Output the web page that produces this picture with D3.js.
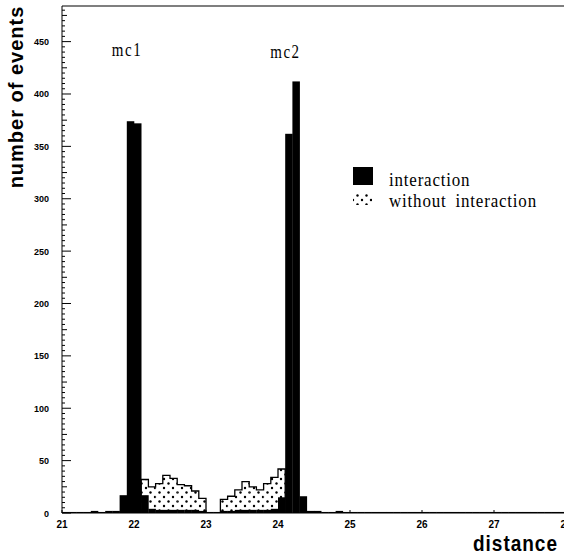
<!DOCTYPE html>
<html>
<head>
<meta charset="utf-8">
<script src="https://cdn.jsdelivr.net/npm/d3@7"></script>
<style>
  html, body { margin: 0; padding: 0; background: #fff; }
  svg { display: block; }
</style>
</head>
<body>
<svg id="chart" width="564" height="556"></svg>
<script>
// ---- data ----
const binWidth = 0.1;
const interactionX = [
  21.0,21.1,21.2,21.3,21.4,21.5,21.6,21.7,
  21.8,21.9,22.0,22.1,
  22.2,22.3,22.4,22.5,22.6,22.7,22.8,22.9,
  23.0,23.1,
  23.2,23.3,23.4,23.5,23.6,23.7,23.8,23.9,
  24.0,24.1,24.2,24.3,
  24.4,24.5,24.6,24.7,24.8,24.9,25.0,25.1,25.2,25.3,25.4,25.5,
  25.6,25.7,25.8,25.9,26.0,26.1,26.2,26.3,26.4,26.5,26.6,26.7,
  26.8,26.9,27.0,27.1,27.2,27.3,27.4,27.5,27.6,27.7,27.8,27.9
];
const interactionN = [
  1,1,1,1,2,1,2,2,
  17,374,372,17,
  4,3,3,3,3,3,3,2,
  1,1,
  2,2,3,3,3,3,3,4,
  15,362,412,16,
  2,2,1,1,2,1,1,1,1,1,1,1,
  1,1,1,1,1,1,1,1,1,1,1,1,
  1,1,1,1,1,1,1,1,1,1,1,1
];
const withoutX = [22.1,22.2,22.3,22.4,22.5,22.6,22.7,22.8,22.9,
                  23.2,23.3,23.4,23.5,23.6,23.7,23.8,23.9,24.0];
const withoutN = [32,25,28,36,33,27,26,21,14,
                  13,16,22,30,25,22,28,34,42];
const xTicks = [21,22,23,24,25,26,27,28];
const yTicks = [0,50,100,150,200,250,300,350,400,450];
const peakLabels = ["mc1","mc2"];
const peakLabelX = [22.0, 24.2];
const legendLabels = ["interaction","without interaction"];

// ---- layout ----
const svg = d3.select("#chart");
const x = d3.scaleLinear().domain([21, 28]).range([62, 566]);
const y = d3.scaleLinear().domain([0, 484]).range([513, 6]);

// dotted pattern
const defs = svg.append("defs");
const pat = defs.append("pattern").attr("id","dots")
  .attr("patternUnits","userSpaceOnUse").attr("width",9).attr("height",9);
pat.append("rect").attr("width",9).attr("height",9).attr("fill","#fff");
pat.append("circle").attr("cx",2).attr("cy",2).attr("r",1.2).attr("fill","#000");
pat.append("circle").attr("cx",6.5).attr("cy",6.5).attr("r",1.2).attr("fill","#000");

// without interaction (dotted)
const withoutData = withoutX.map((v,i)=>({x0:v, n:withoutN[i]}));
svg.append("g").selectAll("rect").data(withoutData).join("rect")
  .attr("x", d=>x(d.x0)).attr("width", d=>x(d.x0+binWidth)-x(d.x0))
  .attr("y", d=>y(d.n)).attr("height", d=>y(0)-y(d.n))
  .attr("fill","url(#dots)");
const groups = [withoutData.slice(0,9), withoutData.slice(9)];
groups.forEach(g=>{
  const pts = [];
  g.forEach(d=>{ pts.push([x(d.x0), y(d.n)]); pts.push([x(d.x0+binWidth), y(d.n)]); });
  pts.unshift([x(g[0].x0), y(0)]);
  pts.push([x(g[g.length-1].x0+binWidth), y(0)]);
  svg.append("path").attr("d", d3.line()(pts)).attr("fill","none")
    .attr("stroke","#000").attr("stroke-width",1.3);
});

// interaction (black)
const interData = interactionX.map((v,i)=>({x0:v, n:interactionN[i]}));
svg.append("g").selectAll("rect").data(interData).join("rect")
  .attr("x", d=>x(d.x0)).attr("width", d=>x(d.x0+binWidth)-x(d.x0)+0.3)
  .attr("y", d=>y(d.n)).attr("height", d=>y(0)-y(d.n))
  .attr("fill","#000");

// axes / frame
svg.append("line").attr("x1",x(21)).attr("x2",x(21)).attr("y1",y(0)).attr("y2",y(484))
  .attr("stroke","#000").attr("stroke-width",1);
svg.append("line").attr("x1",x(21)).attr("x2",564).attr("y1",y(0)).attr("y2",y(0))
  .attr("stroke","#000").attr("stroke-width",1.2);
svg.append("line").attr("x1",x(21)).attr("x2",564).attr("y1",y(484)).attr("y2",y(484))
  .attr("stroke","#000").attr("stroke-width",1.2);

// y ticks: minor every 5, medium at 25, major at 50
const yMinor = d3.range(0, 481, 5);
svg.append("g").selectAll("line").data(yMinor).join("line")
  .attr("x1", x(21)).attr("x2", d => x(21) + (d%50===0 ? 9 : (d%25===0 ? 5 : 3)))
  .attr("y1", d=>y(d)).attr("y2", d=>y(d))
  .attr("stroke","#000").attr("stroke-width",1);
svg.append("g").selectAll("text").data(yTicks).join("text")
  .attr("x", 49).attr("y", d=>y(d)+3.5).attr("text-anchor","end")
  .attr("font-family","Liberation Sans, Arial, sans-serif").attr("font-weight","bold")
  .attr("font-size",9).text(d=>d);

// x ticks
svg.append("g").selectAll("line").data(xTicks).join("line")
  .attr("x1", d=>x(d)).attr("x2", d=>x(d)).attr("y1", y(0)).attr("y2", y(0)-3)
  .attr("stroke","#000").attr("stroke-width",1);
svg.append("g").selectAll("text").data(xTicks).join("text")
  .attr("x", d=>x(d)).attr("y", 528).attr("text-anchor","middle")
  .attr("font-family","Liberation Sans, Arial, sans-serif").attr("font-weight","bold")
  .attr("font-size",10).text(d=>d);

// axis titles
svg.append("text").attr("transform","translate(23,97) rotate(-90)")
  .attr("text-anchor","middle").attr("font-family","Liberation Sans, Arial, sans-serif")
  .attr("font-weight","bold").attr("font-size",20).attr("letter-spacing",1)
  .text("number of events");
svg.append("text").attr("transform","translate(558,551) scale(1,1.2)")
  .attr("text-anchor","end").attr("font-family","Liberation Sans, Arial, sans-serif")
  .attr("font-weight","bold").attr("font-size",19).attr("letter-spacing",1)
  .text("distance");

// peak labels
svg.append("g").selectAll("text").data(peakLabels).join("text")
  .attr("transform",(d,i)=>`translate(${x(peakLabelX[i])-7},${56+i*2}) scale(1,1.2)`)
  .attr("text-anchor","middle").attr("font-family","Liberation Serif, Times New Roman, serif")
  .attr("font-size",15).attr("letter-spacing",1.5).text(d=>d);

// legend
svg.append("rect").attr("x",353).attr("y",167).attr("width",20).attr("height",18).attr("fill","#000");
svg.append("rect").attr("x",353).attr("y",194).attr("width",19).attr("height",11).attr("fill","url(#dots)");
svg.append("g").selectAll("text").data(legendLabels).join("text")
  .attr("transform",(d,i)=>`translate(389,${186+i*21}) scale(1,1.15)`)
  .attr("font-family","Liberation Serif, Times New Roman, serif")
  .attr("font-size",17).attr("letter-spacing",0.8).attr("word-spacing",4)
  .text(d=>d);
</script>
</body>
</html>
